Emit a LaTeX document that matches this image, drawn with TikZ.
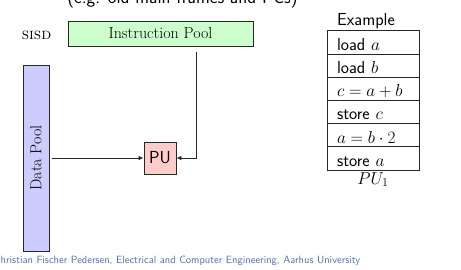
\documentclass[tikz,border=0pt]{standalone}
\usetikzlibrary{arrows.meta}

\definecolor{ipfill}{RGB}{204,255,204}
\definecolor{dpfill}{RGB}{204,204,255}
\definecolor{pufill}{RGB}{255,204,204}
\definecolor{footblue}{RGB}{80,112,168}
\newcommand{\serifsz}{\fontsize{16}{19}\selectfont}
\newcommand{\sanssz}{\sffamily\fontsize{17.4}{21}\selectfont}

\begin{document}
\begin{tikzpicture}[x=1pt, y=-1pt,
  pool/.style={draw=black!85, line width=0.9pt, inner sep=0pt, font=\serifsz},
  conn/.style={draw=black!85, line width=0.8pt, -{Latex[length=5pt,width=4.5pt]}},
  rowbox/.style={draw=black!85, line width=0.8pt, font=\sanssz, inner xsep=10pt,
    inner ysep=0pt, text width=72pt, align=left, minimum height=23.2pt,
    text height=17pt, text depth=1pt, anchor=north, outer sep=0pt},
  plain/.style={inner sep=0pt}
]
\useasboundingbox (0,0) rectangle (461,269);
\clip (0,0) rectangle (461,269);

% heading line, mostly above the visible area
\node[plain, font=\sffamily\fontsize{18.5}{22}\selectfont, anchor=base] (note) at (182.5,3)
  {(e.g. old main frames and PCs)};

% SISD organisation: instruction pool, data pool, processing unit
\node[plain, font=\serifsz\scshape, anchor=base] (sisd) at (36.5,39) {sisd};
\node[pool, fill=ipfill, minimum width=185pt, minimum height=25pt] (ip) at (160.5,33.5)
  {Instruction Pool};
\node[pool, fill=dpfill, minimum width=26pt, minimum height=186pt] (dp) at (36,158)
  {\rotatebox{90}{Data Pool}};
\node[pool, fill=pufill, font=\sanssz, minimum size=32pt] (pu) at (160,158) {PU};

\coordinate (ipout) at (196,52);
\coordinate (dpout) at ([xshift=3pt]dp.east);
\draw[conn] (ipout) |- (pu.east);
\draw[conn] (dpout) -- (pu.west);

% example instruction stream
\node[plain, font=\sanssz, anchor=base west] (ex) at (337,25) {Example};
\node[rowbox] (r1) at (373,30.7) {load $a$};
\node[rowbox] (r2) at (r1.south) {load $b$};
\node[rowbox] (r3) at (r2.south) {$c=a+b$};
\node[rowbox] (r4) at (r3.south) {store $c$};
\node[rowbox] (r5) at (r4.south) {$a=b\cdot 2$};
\node[rowbox] (r6) at (r5.south) {store $a$};
\node[plain, font=\sanssz, anchor=base] (pu1) at (373,184) {$PU_1$};

% footline
\node[plain, font=\sffamily\fontsize{10.5}{12}\selectfont, text=footblue, anchor=base west]
  (foot) at (0.5,263)
  {\llap{C}hristian Fischer Pedersen, Electrical and Computer Engineering, Aarhus University};
\end{tikzpicture}
\end{document}
